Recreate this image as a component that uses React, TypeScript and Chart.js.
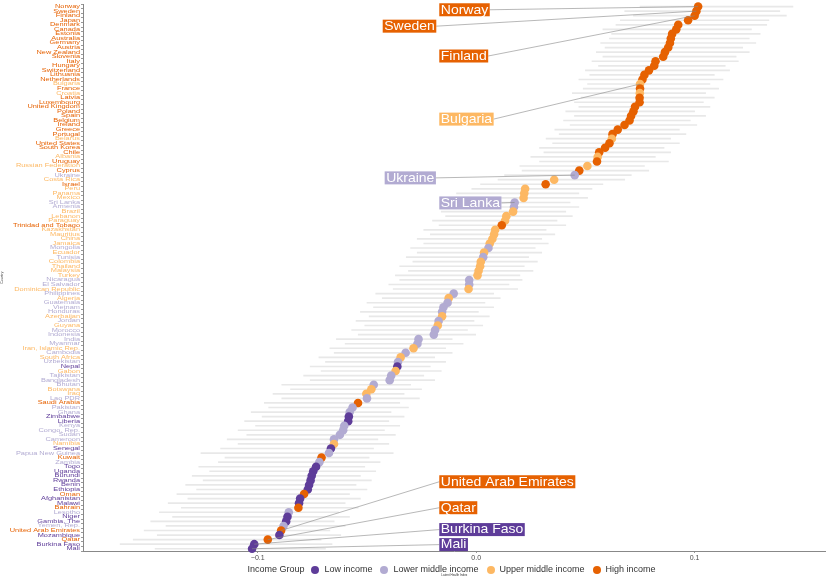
import { useEffect, useRef } from "react";
import { Chart, registerables } from "chart.js";

Chart.register(...registerables);

const countries = [
  "Norway", "Sweden", "Finland", "Japan", "Denmark", "Canada", "Estonia", "Australia", "Germany", "Austria",
  "New Zealand", "Slovenia", "Italy", "Hungary", "Switzerland", "Lithuania", "Netherlands", "Bulgaria", "France", "Croatia",
  "Latvia", "Luxembourg", "United Kingdom", "Poland", "Spain", "Belgium", "Ireland", "Greece", "Portugal", "Belarus",
  "United States", "South Korea", "Chile", "Albania", "Uruguay", "Russian Federation", "Cyprus", "Ukraine", "Costa Rica", "Israel",
  "Peru", "Panama", "Mexico", "Sri Lanka", "Armenia", "Brazil", "Lebanon", "Paraguay", "Trinidad and Tobago", "Kazakhstan",
  "Mauritius", "China", "Jamaica", "Mongolia", "Ecuador", "Tunisia", "Colombia", "Thailand", "Malaysia", "Turkey",
  "Nicaragua", "El Salvador", "Dominican Republic", "Philippines", "Algeria", "Guatemala", "Vietnam", "Honduras", "Azerbaijan", "Jordan",
  "Guyana", "Morocco", "Indonesia", "India", "Myanmar", "Iran, Islamic Rep.", "Cambodia", "South Africa", "Uzbekistan", "Nepal",
  "Gabon", "Tajikistan", "Bangladesh", "Bhutan", "Botswana", "Iraq", "Lao PDR", "Saudi Arabia", "Pakistan", "Ghana",
  "Zimbabwe", "Liberia", "Kenya", "Congo, Rep.", "Sudan", "Cameroon", "Namibia", "Senegal", "Papua New Guinea", "Kuwait",
  "Zambia", "Togo", "Uganda", "Burundi", "Rwanda", "Benin", "Ethiopia", "Oman", "Afghanistan", "Malawi",
  "Bahrain", "Lesotho", "Niger", "Gambia, The", "Yemen, Rep.", "United Arab Emirates", "Mozambique", "Qatar", "Burkina Faso", "Mali",
];

// H = high, U = upper middle, L = lower middle, W = low income
const incomeCode = [
  "H", "H", "H", "H", "H", "H", "H", "H", "H", "H",
  "H", "H", "H", "H", "H", "H", "H", "U", "H", "U",
  "H", "H", "H", "H", "H", "H", "H", "H", "H", "U",
  "H", "H", "H", "U", "H", "U", "H", "L", "U", "H",
  "U", "U", "U", "L", "L", "U", "U", "U", "H", "U",
  "U", "U", "U", "L", "U", "L", "U", "U", "U", "U",
  "L", "L", "U", "L", "U", "L", "L", "L", "U", "L",
  "U", "L", "L", "L", "L", "U", "L", "U", "L", "W",
  "U", "L", "L", "L", "U", "U", "L", "H", "L", "L",
  "W", "W", "L", "L", "L", "L", "U", "W", "L", "H",
  "L", "W", "W", "W", "W", "W", "W", "H", "W", "W",
  "H", "L", "W", "W", "L", "H", "W", "H", "W", "W",
];

const healthIndex = [
  0.1016, 0.1008, 0.1, 0.097, 0.0925, 0.0916, 0.0897, 0.0891, 0.0887, 0.0879,
  0.0864, 0.0856, 0.0821, 0.0815, 0.0791, 0.077, 0.0761, 0.075, 0.075, 0.0749,
  0.0748, 0.0748, 0.0727, 0.072, 0.0709, 0.0702, 0.0679, 0.0648, 0.0624, 0.0621,
  0.061, 0.059, 0.0563, 0.0556, 0.0553, 0.0509, 0.0472, 0.0451, 0.0357, 0.0318,
  0.0224, 0.022, 0.0217, 0.0176, 0.0173, 0.0169, 0.0138, 0.0132, 0.0117, 0.0087,
  0.0082, 0.0074, 0.0062, 0.0056, 0.0036, 0.0032, 0.0021, 0.0018, 0.0011, 0.0006,
  -0.0032, -0.0032, -0.0035, -0.0103, -0.0126, -0.0131, -0.015, -0.0156, -0.0156, -0.0172,
  -0.0176, -0.0188, -0.0194, -0.0264, -0.0269, -0.0287, -0.0323, -0.0346, -0.0358, -0.0361,
  -0.0369, -0.0389, -0.0396, -0.0469, -0.048, -0.0503, -0.05, -0.0541, -0.0566, -0.0579,
  -0.0583, -0.0586, -0.0604, -0.0609, -0.0624, -0.0651, -0.0651, -0.0665, -0.0674, -0.0708,
  -0.0718, -0.0733, -0.0746, -0.0753, -0.0758, -0.0765, -0.0771, -0.0788, -0.0806, -0.0811,
  -0.0814, -0.0858, -0.0864, -0.087, -0.0882, -0.0893, -0.0901, -0.0954, -0.1016, -0.1026,
];

const lowerBound = [
  0.075, 0.068, 0.072, 0.066, 0.064, 0.058, 0.062, 0.061, 0.057, 0.059,
  0.055, 0.058, 0.053, 0.056, 0.05, 0.052, 0.047, 0.051, 0.049, 0.044,
  0.048, 0.045, 0.047, 0.041, 0.045, 0.04, 0.043, 0.036, 0.038, 0.032,
  0.035, 0.029, 0.031, 0.025, 0.029, 0.02, 0.021, 0.013, 0.01, 0.002,
  -0.002, -0.009, -0.005, -0.013, -0.009, -0.016, -0.014, -0.02, -0.017, -0.024,
  -0.021, -0.027, -0.024, -0.03, -0.027, -0.032, -0.029, -0.035, -0.031, -0.037,
  -0.035, -0.04, -0.038, -0.046, -0.043, -0.05, -0.047, -0.053, -0.049, -0.055,
  -0.051, -0.057, -0.054, -0.064, -0.06, -0.067, -0.065, -0.072, -0.069, -0.076,
  -0.071, -0.079, -0.076, -0.089, -0.085, -0.093, -0.089, -0.097, -0.095, -0.103,
  -0.098, -0.106, -0.101, -0.109, -0.105, -0.114, -0.109, -0.117, -0.126, -0.115,
  -0.118, -0.127, -0.122, -0.13, -0.125, -0.133, -0.128, -0.137, -0.132, -0.141,
  -0.135, -0.145, -0.139, -0.149, -0.142, -0.152, -0.146, -0.157, -0.163, -0.147,
];

const upperBound = [
  0.145, 0.139, 0.142, 0.134, 0.133, 0.126, 0.13, 0.125, 0.128, 0.122,
  0.125, 0.119, 0.12, 0.114, 0.116, 0.109, 0.113, 0.107, 0.111, 0.105,
  0.109, 0.104, 0.107, 0.1, 0.105, 0.098, 0.101, 0.093, 0.096, 0.089,
  0.093, 0.086, 0.089, 0.082, 0.088, 0.077, 0.079, 0.071, 0.068, 0.058,
  0.053, 0.047, 0.051, 0.043, 0.047, 0.041, 0.044, 0.037, 0.041, 0.032,
  0.036, 0.03, 0.033, 0.027, 0.03, 0.024, 0.028, 0.022, 0.026, 0.02,
  0.021, 0.015, 0.019, 0.008, 0.011, 0.004, 0.008, 0.001, 0.006, -0.001,
  0.003, -0.004, 0.0, -0.011, -0.006, -0.014, -0.011, -0.019, -0.014, -0.021,
  -0.016, -0.024, -0.019, -0.03, -0.025, -0.033, -0.026, -0.035, -0.031, -0.039,
  -0.033, -0.04, -0.035, -0.042, -0.037, -0.045, -0.04, -0.047, -0.038, -0.049,
  -0.044, -0.051, -0.046, -0.053, -0.048, -0.055, -0.05, -0.058, -0.053, -0.06,
  -0.054, -0.063, -0.058, -0.065, -0.06, -0.067, -0.062, -0.071, -0.066, -0.069,
];

const xTicks = [-0.1, 0, 0.1];

const groupNames: Record<string, string> = {
  W: "Low income",
  L: "Lower middle income",
  U: "Upper middle income",
  H: "High income",
};
const groupColors: Record<string, string> = {
  W: "#5e3c99",
  L: "#b2abd2",
  U: "#fdb863",
  H: "#e66101",
};
const legendOrder = ["W", "L", "U", "H"];

// labelled countries: box left edge (x value) and box centre (row position)
const callouts = [
  { country: "Norway", boxX: -0.0169, boxRow: 0.7 },
  { country: "Sweden", boxX: -0.0428, boxRow: 4.3 },
  { country: "Finland", boxX: -0.0169, boxRow: 10.85 },
  { country: "Bulgaria", boxX: -0.0169, boxRow: 24.7 },
  { country: "Ukraine", boxX: -0.0419, boxRow: 37.6 },
  { country: "Sri Lanka", boxX: -0.0169, boxRow: 43.1 },
  { country: "United Arab Emirates", boxX: -0.0169, boxRow: 104.3 },
  { country: "Qatar", boxX: -0.0169, boxRow: 110 },
  { country: "Burkina Faso", boxX: -0.0169, boxRow: 114.8 },
  { country: "Mali", boxX: -0.0169, boxRow: 118.1 },
];

const FONT = "'Liberation Sans', Arial, sans-serif";
const pointColors = incomeCode.map((c) => groupColors[c]);

// country names: wide but short glyphs, as in the original device output
const countryLabelPlugin = {
  id: "countryLabels",
  afterDraw(chart: Chart) {
    const { ctx } = chart;
    const ys = chart.scales.y;
    const right = ys.right - 3;
    ctx.save();
    ctx.font = `7.4px ${FONT}`;
    ctx.textAlign = "right";
    ctx.textBaseline = "middle";
    countries.forEach((name, i) => {
      ctx.save();
      ctx.translate(right, ys.getPixelForValue(i));
      ctx.scale(1, 0.72);
      ctx.fillStyle = pointColors[i];
      ctx.fillText(name, 0, 0);
      ctx.restore();
    });
    ctx.restore();
  },
};

const calloutPlugin = {
  id: "callouts",
  afterDatasetsDraw(chart: Chart) {
    const { ctx } = chart;
    const xs = chart.scales.x;
    const ys = chart.scales.y;
    ctx.save();
    ctx.font = `14px ${FONT}`;
    for (const c of callouts) {
      const i = countries.indexOf(c.country);
      const px = xs.getPixelForValue(healthIndex[i]);
      const py = ys.getPixelForValue(i);
      const bx = xs.getPixelForValue(c.boxX);
      const by = ys.getPixelForValue(c.boxRow);
      const w = ctx.measureText(c.country).width + 3;
      const h = 13;
      const sx = px > bx + w ? bx + w : bx;
      ctx.strokeStyle = "#888";
      ctx.lineWidth = 0.6;
      ctx.beginPath();
      ctx.moveTo(sx, by);
      ctx.lineTo(px, py);
      ctx.stroke();
      ctx.fillStyle = groupColors[incomeCode[i]];
      ctx.fillRect(bx, by - h / 2, w, h);
      ctx.save();
      ctx.translate(bx + 1.5, by + 0.5);
      ctx.scale(1, 0.85);
      ctx.fillStyle = "#fff";
      ctx.textBaseline = "middle";
      ctx.fillText(c.country, 0, 0);
      ctx.restore();
    }
    ctx.restore();
  },
};

export default function App() {
  const canvasRef = useRef<HTMLCanvasElement>(null);
  const chartRef = useRef<Chart | null>(null);

  useEffect(() => {
    if (!canvasRef.current) return;
    chartRef.current?.destroy();
    chartRef.current = new Chart(canvasRef.current, {
      type: "bar",
      data: {
        labels: countries,
        datasets: [
          {
            type: "line",
            label: "Latent Health Index",
            data: healthIndex,
            showLine: false,
            pointRadius: 4.3,
            pointBorderWidth: 0,
            pointBackgroundColor: pointColors,
            pointHoverRadius: 4.3,
            order: 0,
          },
          {
            type: "bar",
            label: "Interval",
            data: countries.map((_, i) => [lowerBound[i], upperBound[i]]),
            backgroundColor: "#e8e8e8",
            barThickness: 1,
            order: 1,
          },
        ],
      } as any,
      options: {
        indexAxis: "y",
        animation: false,
        responsive: true,
        maintainAspectRatio: false,
        layout: { padding: { top: 1.5, right: 2, left: 0, bottom: 0 } },
        plugins: { legend: { display: false }, tooltip: { enabled: false } },
        scales: {
          x: {
            type: "linear",
            min: -0.18,
            max: 0.16,
            afterBuildTicks: (s: any) => {
              s.ticks = xTicks.map((v) => ({ value: v }));
            },
            afterFit: (s: any) => {
              s.height = 26;
            },
            ticks: {
              callback: (v: any) => Number(v).toFixed(1).replace("-", "\u2212"),
              font: { size: 7, family: FONT },
              color: "#4d4d4d",
              padding: 1,
            },
            grid: { drawOnChartArea: false, tickLength: 2, color: "#999" },
            border: { display: true, color: "#888" },
            title: {
              display: true,
              text: "Latent Health Index",
              font: { size: 3, family: FONT },
              color: "#333",
              padding: 0,
            },
          },
          y: {
            type: "category",
            afterFit: (s: any) => {
              s.width = 83;
            },
            ticks: { display: false, autoSkip: false },
            grid: { drawOnChartArea: false, tickLength: 2, color: "#999" },
            border: { display: true, color: "#888" },
            title: {
              display: true,
              text: "Country",
              font: { size: 3.5, family: FONT },
              color: "#333",
              padding: 0,
            },
          },
        },
      },
      plugins: [calloutPlugin, countryLabelPlugin],
    });
    return () => chartRef.current?.destroy();
  }, []);

  return (
    <div style={{ position: "fixed", left: 0, top: 0, width: 830, height: 577, background: "#fff" }}>
      <div style={{ position: "absolute", left: 0, top: 0, width: 830, height: 577 }}>
        <canvas ref={canvasRef} />
      </div>
      <div
        style={{
          position: "absolute",
          left: 83,
          width: 745,
          top: 564,
          display: "flex",
          justifyContent: "center",
          alignItems: "center",
          fontFamily: FONT,
          fontSize: 9,
          color: "#333",
          lineHeight: "11px",
        }}
      >
        <span style={{ marginRight: 7 }}>Income Group</span>
        {legendOrder.map((g) => (
          <span key={g} style={{ display: "flex", alignItems: "center", marginRight: 8 }}>
            <span
              style={{
                width: 8,
                height: 8,
                borderRadius: "50%",
                background: groupColors[g],
                display: "inline-block",
                marginRight: 5,
              }}
            />
            {groupNames[g]}
          </span>
        ))}
      </div>
    </div>
  );
}
